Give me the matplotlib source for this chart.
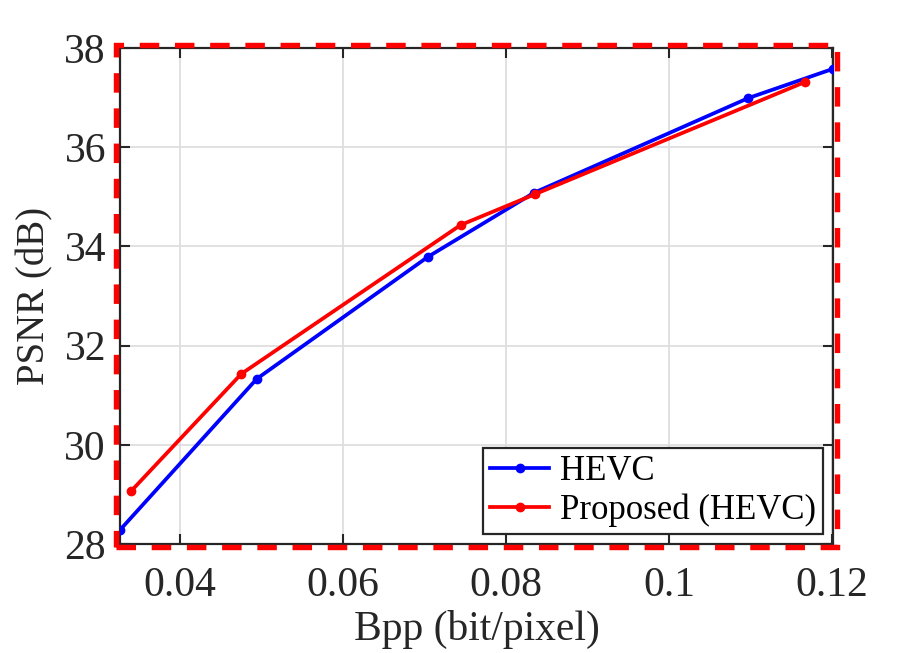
import matplotlib
matplotlib.use("Agg")
import matplotlib.pyplot as plt
from matplotlib.patches import Rectangle

plt.rcParams['font.family'] = ['Liberation Serif', 'DejaVu Serif']
plt.rcParams['mathtext.fontset'] = 'stix'

hevc_x = [0.0326, 0.0494, 0.0704, 0.0834, 0.1097, 0.1201]
hevc_y = [28.28, 31.33, 33.79, 35.08, 36.99, 37.58]
prop_x = [0.0340, 0.0475, 0.0744, 0.0835, 0.1166]
prop_y = [29.07, 31.43, 34.43, 35.05, 37.31]

xticks = [0.04, 0.06, 0.08, 0.1, 0.12]
xticklabels = ['0.04', '0.06', '0.08', '0.1', '0.12']
yticks = [28, 30, 32, 34, 36, 38]

fig = plt.figure(figsize=(9.22, 6.53), dpi=100)
ax = fig.add_axes([0.130, 0.1669, 0.7735, 0.7596])

ax.plot(hevc_x, hevc_y, color='#0000ff', lw=2.7, marker='o', ms=6, label='HEVC', zorder=3)
ax.plot(prop_x, prop_y, color='#ff0000', lw=2.7, marker='o', ms=6, label='Proposed (HEVC)', zorder=3)

ax.set_xlim(0.0326, 0.1201)
ax.set_ylim(28, 38)
ax.set_xticks(xticks)
ax.set_xticklabels(xticklabels)
ax.set_yticks(yticks)
ax.grid(True, color='#dedede', lw=1.3)
ax.set_axisbelow(True)
ax.tick_params(direction='in', length=7, width=1.5, labelsize=30, top=True, right=True,
               colors='#262626', labelcolor='#262626')
ax.tick_params(axis='x', pad=16)
ax.tick_params(axis='y', pad=10)
for s in ax.spines.values():
    s.set_color('#262626')
    s.set_linewidth(1.6)

ax.set_xlabel('Bpp (bit/pixel)', fontsize=30, color='#262626', labelpad=4)
ax.set_ylabel('PSNR (dB)', fontsize=28, color='#262626', labelpad=8)

leg = ax.legend(loc='lower right', fontsize=25, frameon=True, fancybox=False,
                edgecolor='#262626', handlelength=1.7, handletextpad=0.3,
                borderpad=0.2, labelspacing=0.15, borderaxespad=0.3)
leg.get_frame().set_linewidth(1.6)
leg.get_frame().set_alpha(1)

# red dashed border around the axes
pos = ax.get_position()
px = 3.5 / 922
py = 3.0 / 653
rect = Rectangle((pos.x0 - px, pos.y0 - py), pos.width + 2 * px, pos.height + 2 * py,
                 transform=fig.transFigure, fill=False, edgecolor='#ff0000',
                 lw=3.9, linestyle=(0, (3.6, 2.9)), clip_on=False, zorder=10)
fig.patches.append(rect)

fig.savefig('out.png', dpi=100)
